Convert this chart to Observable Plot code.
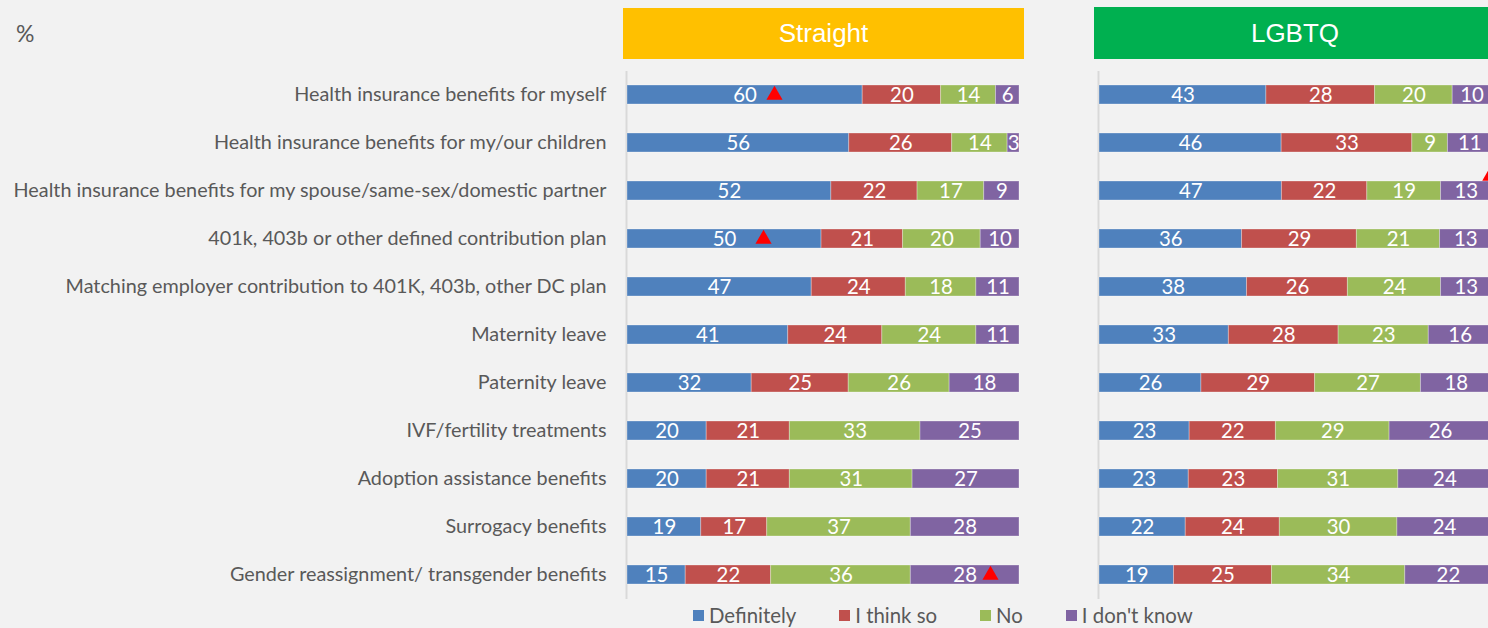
<!DOCTYPE html>
<html>
<head>
<meta charset="utf-8">
<script src="https://cdn.jsdelivr.net/npm/d3@7"></script>
<script src="https://cdn.jsdelivr.net/npm/@observablehq/plot@0.6"></script>
<style>
  html, body { margin: 0; padding: 0; background: #f2f2f2; overflow: hidden; }
  #wrap { position: relative; width: 1488px; height: 628px; overflow: hidden; background: #f2f2f2; }
  .panel { position: absolute; top: 0; }
  .hdr { position: absolute; color: #fff; font-family: "Liberation Sans", Arial, sans-serif; font-size: 26px;
         display: flex; align-items: center; justify-content: center; }
  #pct { position: absolute; left: 16px; top: 18px; font-size: 23px; color: #595959; line-height: 30px; }
  #legend { position: absolute; left: 693px; top: 604px; display: flex; align-items: center; color: #595959; line-height: 22px; white-space: nowrap; }
  #legend .item { display: flex; align-items: center; margin-right: 43px; }
  #legend .sw { width: 11px; height: 11px; margin-right: 5px; }
</style>
</head>
<body>
<div id="wrap"></div>
<script>
// ---------------- data ----------------
const categories = [
  "Health insurance benefits for myself",
  "Health insurance benefits for my/our children",
  "Health insurance benefits for my spouse/same-sex/domestic partner",
  "401k, 403b or other defined contribution plan",
  "Matching employer contribution to 401K, 403b, other DC plan",
  "Maternity leave",
  "Paternity leave",
  "IVF/fertility treatments",
  "Adoption assistance benefits",
  "Surrogacy benefits",
  "Gender reassignment/ transgender benefits"
];
const responses = ["Definitely", "I think so", "No", "I don't know"];
const responseColors = ["#4F81BD", "#C0504D", "#9BBB59", "#8064A2"];
const groups = ["Straight", "LGBTQ"];
const groupColors = ["#FFC000", "#00B050"];

const straightDefinitely = [60, 56, 52, 50, 47, 41, 32, 20, 20, 19, 15];
const straightThinkSo    = [20, 26, 22, 21, 24, 24, 25, 21, 21, 17, 22];
const straightNo         = [14, 14, 17, 20, 18, 24, 26, 33, 31, 37, 36];
const straightDontKnow   = [ 6,  3,  9, 10, 11, 11, 18, 25, 27, 28, 28];

const lgbtqDefinitely = [43, 46, 47, 36, 38, 33, 26, 23, 23, 22, 19];
const lgbtqThinkSo    = [28, 33, 22, 29, 26, 28, 29, 22, 23, 24, 25];
const lgbtqNo         = [20,  9, 19, 21, 24, 23, 27, 29, 31, 30, 34];
const lgbtqDontKnow   = [10, 11, 13, 13, 13, 16, 18, 26, 24, 24, 22];

// significance markers: [category index, share of bar]
const straightMarkers = [[0, 0.375], [3, 0.347], [10, 0.926]];
const lgbtqMarkers = [[2, 0.997]];

// ---------------- build ----------------
function table(series) {
  const out = [];
  categories.forEach((c, i) => series.forEach((s, j) => out.push({category: c, response: responses[j], value: s[i]})));
  return out;
}
const straightData = table([straightDefinitely, straightThinkSo, straightNo, straightDontKnow]);
const lgbtqData = table([lgbtqDefinitely, lgbtqThinkSo, lgbtqNo, lgbtqDontKnow]);
const markers = m => m.map(([i, at]) => ({category: categories[i], at}));

const FONT = "Lato, 'Open Sans', sans-serif";
const ctx = document.createElement("canvas").getContext("2d");
ctx.font = "100px " + FONT;
const FS = +(100 * 594 / ctx.measureText(categories[2]).width).toFixed(2);

function panel(data, marks, o) {
  return Plot.plot({
    width: o.width, height: 628,
    marginLeft: o.ml, marginRight: o.mr, marginTop: 71, marginBottom: 29,
    style: {background: "transparent", fontFamily: FONT, fontSize: FS + "px", overflow: "visible"},
    x: {domain: [0, 1], axis: null},
    y: o.axis
      ? {domain: categories, paddingInner: 0.6, paddingOuter: 0.3, tickSize: 0, tickPadding: 21, label: null}
      : {domain: categories, paddingInner: 0.6, paddingOuter: 0.3, axis: null},
    color: {domain: responses, range: responseColors},
    marks: [
      Plot.ruleX([0], {stroke: "#d9d9d9", strokeWidth: 2, dx: -1}),
      Plot.barX(data, Plot.stackX({x: "value", y: "category", fill: "response", order: responses, offset: "normalize",
        stroke: "#ffffff", strokeOpacity: 0.3, strokeWidth: 1})),
      Plot.text(data, Plot.stackX({x: "value", y: "category", z: "response", text: "value", order: responses,
        offset: "normalize", fill: "white", fontSize: FS * 1.03})),
      Plot.dot(marks, {x: "at", y: "category", symbol: "triangle", r: 6, fill: "#ff0000", stroke: "none", dy: o.markerDy})
    ]
  });
}

const wrap = document.getElementById("wrap");
const left = panel(straightData, markers(straightMarkers), {width: 1030, ml: 627, mr: 11, axis: true, markerDy: 0});
left.classList.add("panel"); left.style.left = "0px";
left.querySelectorAll("g[aria-label='y-axis tick label']").forEach(e => e.setAttribute("fill", "#595959"));
wrap.appendChild(left);
const right = panel(lgbtqData, markers(lgbtqMarkers), {width: 420, ml: 19, mr: 9, axis: false, markerDy: -15});
right.classList.add("panel"); right.style.left = "1080px";
wrap.appendChild(right);

// headers
const hdrBoxes = [{left: 623, top: 8, width: 401, height: 51}, {left: 1094, top: 7, width: 402, height: 52}];
groups.forEach((g, i) => {
  const d = document.createElement("div");
  d.className = "hdr";
  Object.assign(d.style, {left: hdrBoxes[i].left + "px", top: hdrBoxes[i].top + "px", width: hdrBoxes[i].width + "px",
    height: hdrBoxes[i].height + "px", background: groupColors[i]});
  d.textContent = g;
  wrap.appendChild(d);
});

// % label
const pct = document.createElement("div");
pct.id = "pct"; pct.style.fontFamily = FONT; pct.textContent = "%";
wrap.appendChild(pct);

// legend
const lg = document.createElement("div");
lg.id = "legend"; lg.style.fontFamily = FONT; lg.style.fontSize = (FS * 1.03) + "px";
responses.forEach((r, i) => {
  const it = document.createElement("div"); it.className = "item";
  const sw = document.createElement("div"); sw.className = "sw"; sw.style.background = responseColors[i];
  const tx = document.createElement("span"); tx.textContent = r;
  it.appendChild(sw); it.appendChild(tx); lg.appendChild(it);
});
wrap.appendChild(lg);
</script>
</body>
</html>
